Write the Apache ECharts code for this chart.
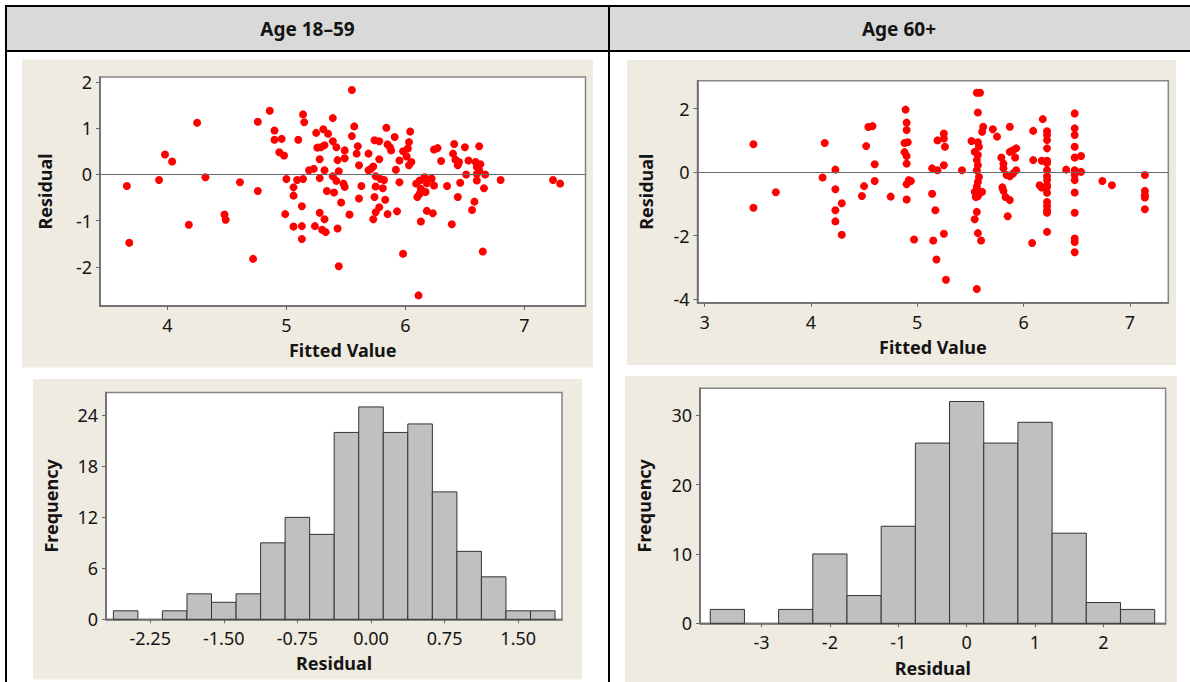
<!DOCTYPE html>
<html>
<head>
<meta charset="utf-8">
<script src="https://cdn.jsdelivr.net/npm/echarts@6/dist/echarts.min.js"></script>
<style>
html,body{margin:0;padding:0;background:#fff;}
#chart{width:1190px;height:682px;}
</style>
</head>
<body>
<div id="chart"></div>
<script>
// ---------- DATA ----------
const panelTitles = ['Age 18–59', 'Age 60+'];
const fittedName = 'Fitted Value';
const residName = 'Residual';
const freqName = 'Frequency';

// Age 18-59: [fitted value, residual]
const points1 = [
[3.66,-0.25],[3.68,-1.48],[3.93,-0.12],[3.98,0.43],[4.04,0.28],[4.25,1.12],[4.18,-1.09],[4.32,-0.06],
[4.48,-0.87],[4.49,-0.98],[4.61,-0.17],[4.72,-1.83],[4.76,1.14],[4.76,-0.36],[4.86,1.38],[4.90,0.95],
[4.90,0.75],[4.96,0.77],[4.94,0.48],[4.98,0.41],[5.00,-0.10],[5.06,-0.28],[5.06,-0.46],[4.99,-0.86],
[5.06,-1.13],[5.13,-0.69],[5.13,-1.12],[5.13,-1.40],[5.10,0.75],[5.14,1.30],[5.15,1.13],[5.09,-0.12],
[5.14,-0.10],[5.19,0.09],[5.23,0.12],[5.24,-1.12],[5.25,0.90],[5.26,0.58],[5.29,0.59],[5.28,0.33],
[5.28,-0.08],[5.28,-0.83],[5.31,0.98],[5.32,0.63],[5.32,0.09],[5.32,-0.97],[5.30,-1.20],[5.33,-1.25],
[5.34,-0.36],[5.35,0.88],[5.39,1.22],[5.39,0.72],[5.42,0.59],[5.39,-0.04],[5.42,-0.14],[5.40,-0.39],
[5.43,0.31],[5.44,0.07],[5.46,-0.61],[5.43,-1.17],[5.44,-1.99],[5.49,0.52],[5.49,0.35],[5.48,-0.20],
[5.49,-0.27],[5.53,-0.87],[5.55,1.83],[5.55,0.83],[5.57,1.04],[5.60,0.61],[5.59,0.45],[5.61,0.20],
[5.69,0.45],[5.63,-0.25],[5.61,-0.52],[5.84,1.01],[5.74,0.74],[5.78,0.72],[5.85,0.65],[5.88,0.52],
[5.91,0.81],[5.87,0.59],[6.04,0.93],[6.03,0.70],[6.02,0.56],[5.98,0.50],[5.95,0.30],[6.03,0.20],
[6.05,0.27],[6.01,0.39],[5.78,0.33],[5.73,0.17],[5.69,0.09],[5.71,0.12],[5.92,0.10],[5.75,-0.04],
[5.79,-0.10],[5.82,-0.12],[5.75,-0.26],[5.81,-0.30],[5.95,-0.17],[5.74,-0.49],[5.83,-0.55],[5.78,-0.71],
[5.75,-0.82],[5.73,-0.97],[5.85,-0.86],[5.93,-0.80],[5.98,-1.72],[6.11,-2.62],[6.13,-1.02],[6.18,-0.79],
[6.23,-0.84],[6.09,-0.20],[6.12,-0.13],[6.16,-0.06],[6.18,-0.19],[6.22,-0.09],[6.24,-0.24],[6.13,-0.31],
[6.10,-0.49],[6.12,-0.42],[6.17,-0.38],[6.24,0.54],[6.27,0.57],[6.30,0.29],[6.35,-0.25],[6.39,-1.08],
[6.41,0.66],[6.40,0.45],[6.42,0.32],[6.44,0.20],[6.45,0.27],[6.50,0.59],[6.46,-0.18],[6.44,-0.49],
[6.51,0.00],[6.53,0.30],[6.62,0.61],[6.59,0.27],[6.60,0.16],[6.63,0.22],[6.62,0.09],[6.60,0.01],
[6.67,0.00],[6.60,-0.13],[6.66,-0.30],[6.58,-0.59],[6.56,-0.77],[6.65,-1.67],[6.80,-0.12],[7.24,-0.12],
[7.30,-0.20]
];

// Age 60+: [fitted value, residual]
const points2 = [
[3.46,0.88],[3.46,-1.12],[3.67,-0.63],[4.13,0.92],[4.11,-0.17],[4.23,0.08],[4.23,-0.54],[4.23,-1.20],
[4.23,-1.55],[4.29,-0.98],[4.29,-1.97],[4.52,0.82],[4.54,1.42],[4.58,1.45],[4.60,0.25],[4.60,-0.28],
[4.50,-0.44],[4.48,-0.75],[4.75,-0.77],[4.89,1.97],[4.90,1.56],[4.90,1.33],[4.88,0.92],[4.91,0.94],
[4.88,0.63],[4.90,0.51],[4.90,0.27],[4.92,-0.25],[4.94,-0.28],[4.90,-0.38],[4.90,-0.86],[4.97,-2.12],
[5.14,0.12],[5.19,0.06],[5.19,1.00],[5.14,-0.68],[5.17,-1.20],[5.15,-2.15],[5.18,-2.75],[5.25,1.22],
[5.26,0.80],[5.25,1.06],[5.25,0.22],[5.25,-1.94],[5.27,-3.39],[5.42,0.06],[5.56,2.50],[5.59,2.50],
[5.57,1.88],[5.62,1.43],[5.61,1.27],[5.51,0.98],[5.57,0.94],[5.58,0.80],[5.54,0.64],[5.57,0.54],
[5.56,0.38],[5.57,0.22],[5.56,0.06],[5.58,-0.15],[5.57,-0.31],[5.56,-0.46],[5.54,-0.62],[5.58,-0.62],
[5.61,-0.62],[5.57,-0.76],[5.55,-0.78],[5.56,-1.25],[5.54,-1.48],[5.57,-1.92],[5.60,-2.15],[5.56,-3.68],
[5.71,1.35],[5.75,1.12],[5.87,1.43],[5.79,0.46],[5.81,0.27],[5.81,0.12],[5.84,-0.09],[5.87,-0.13],
[5.87,0.64],[5.90,0.69],[5.93,0.75],[5.92,0.46],[5.93,0.06],[5.90,-0.04],[5.80,-0.48],[5.81,-0.59],
[5.83,-0.78],[5.87,-0.88],[5.85,-1.39],[6.09,1.30],[6.18,1.67],[6.09,0.38],[6.08,-2.23],
[6.22,1.29],[6.22,1.17],[6.22,1.01],[6.22,0.75],[6.22,0.36],[6.22,0.29],[6.22,0.06],[6.22,-0.13],
[6.22,-0.25],[6.22,-0.41],[6.22,-0.46],[6.22,-0.65],[6.22,-0.94],[6.22,-1.07],[6.22,-1.20],[6.22,-1.28],
[6.22,-1.88],[6.17,0.36],[6.15,-0.41],[6.17,-0.48],[6.40,0.08],
[6.48,1.85],[6.48,1.38],[6.48,1.17],[6.48,0.80],[6.48,0.46],[6.48,0.06],[6.48,-0.09],[6.48,-0.25],
[6.48,-0.64],[6.48,-1.28],[6.48,-2.09],[6.48,-2.20],[6.48,-2.52],[6.54,0.51],[6.54,0.01],
[6.74,-0.28],[6.83,-0.41],[7.14,-0.09],[7.14,-0.59],[7.14,-0.73],[7.14,-0.80],[7.14,-1.17]
];

// Histograms of residuals
const hist1Counts = [1,0,1,3,2,3,9,12,10,22,25,22,23,15,8,5,1,1];
const hist1Start = -2.625;
const hist1Width = 0.25;
const hist2Counts = [2,0,2,10,4,14,26,32,26,29,13,3,2];
const hist2Start = -3.75;
const hist2Width = 0.5;

// Tick values
const ticksX1 = [4,5,6,7];
const ticksY1 = [-2,-1,0,1,2];
const ticksX2 = [3,4,5,6,7];
const ticksY2 = [-4,-2,0,2];
const ticksX3 = [-2.25,-1.5,-0.75,0,0.75,1.5];
const ticksY3 = [0,6,12,18,24];
const ticksX4 = [-3,-2,-1,0,1,2];
const ticksY4 = [0,10,20,30];

// ---------- STYLE / LAYOUT ----------
const FONT = '"Noto Sans", "DejaVu Sans", sans-serif';
const TXT = '#141414';
const AX = '#676767';
const BEIGE = '#efebe1';

function axis(grid, min, max, ticks, name, gap, fmt, isY) {
  return {
    type: 'value', gridIndex: grid, min: min, max: max,
    name: name, nameLocation: 'middle', nameGap: gap,
    nameTextStyle: {fontFamily: FONT, fontSize: 18, fontWeight: 'bold', color: TXT},
    axisLine: {show: true, onZero: false, lineStyle: {color: AX, width: 1.5}},
    axisTick: {show: true, length: 4, customValues: ticks, lineStyle: {color: AX, width: 1}},
    axisLabel: {show: true, customValues: ticks, margin: isY ? 8 : 10, formatter: fmt,
                fontFamily: FONT, fontSize: 18, color: TXT},
    splitLine: {show: false}
  };
}
const plain = v => String(v);
const two = v => v.toFixed(2);

function histSeries(idx, counts, start, width) {
  return {
    type: 'custom', xAxisIndex: idx, yAxisIndex: idx, z: 3,
    data: counts.map((c, i) => [start + i * width, start + (i + 1) * width, c]),
    encode: {x: [0, 1], y: 2},
    renderItem: function (params, api) {
      const c = api.value(2);
      if (!c) return null;
      const p0 = api.coord([api.value(0), c]);
      const p1 = api.coord([api.value(1), 0]);
      return {type: 'rect',
        shape: {x: p0[0], y: p0[1], width: p1[0] - p0[0], height: p1[1] - p0[1]},
        style: {fill: '#c0c0c0', stroke: '#333333', lineWidth: 1}};
    }
  };
}
function zeroLine(idx) {
  return {
    type: 'scatter', xAxisIndex: idx, yAxisIndex: idx, data: [], z: 2,
    markLine: {silent: true, symbol: 'none', label: {show: false},
      lineStyle: {color: '#6a6a6a', width: 1, type: 'solid'}, data: [{yAxis: 0}], animation: false}
  };
}
function scatterSeries(idx, pts) {
  return {type: 'scatter', xAxisIndex: idx, yAxisIndex: idx, z: 4, symbolSize: 8,
    itemStyle: {color: '#ff0000', opacity: 1}, data: pts};
}

const gridBase = {show: true, backgroundColor: '#ffffff', borderColor: '#858585', borderWidth: 1.5, containLabel: false};

const bgRect = (x, y, w, h, fill) => ({type: 'rect', z: -10, shape: {x, y, width: w, height: h}, style: {fill}});
const blk = (x, y, w, h) => ({type: 'rect', z: 50, shape: {x, y, width: w, height: h}, style: {fill: '#000'}});

const option = {
  animation: false,
  backgroundColor: '#ffffff',
  graphic: {elements: [
    bgRect(7, 7, 1183, 43, '#d9d9d9'),
    bgRect(22, 59.5, 571, 308, BEIGE),
    bgRect(627, 60, 549, 305, BEIGE),
    bgRect(33, 379, 549, 300.5, BEIGE),
    bgRect(625, 376, 552, 306, BEIGE),
    blk(5, 5, 1185, 2), blk(5, 5, 2, 677), blk(608, 5, 2, 677), blk(5, 50, 1185, 2),
    {type: 'text', z: 60, style: {text: panelTitles[0], x: 307.5, y: 29, align: 'center', verticalAlign: 'middle',
      font: 'bold 19px ' + FONT, fill: TXT}},
    {type: 'text', z: 60, style: {text: panelTitles[1], x: 899, y: 29, align: 'center', verticalAlign: 'middle',
      font: 'bold 19px ' + FONT, fill: TXT}}
  ]},
  grid: [
    Object.assign({left: 100, top: 77, width: 485.5, height: 229}, gridBase),
    Object.assign({left: 697.5, top: 80.7, width: 470.8, height: 222}, gridBase),
    Object.assign({left: 106, top: 392.5, width: 456, height: 226.8}, gridBase),
    Object.assign({left: 700, top: 388.3, width: 465.6, height: 235}, gridBase)
  ],
  xAxis: [
    axis(0, 3.434, 7.513, ticksX1, fittedName, 35, plain, false),
    axis(1, 2.934, 7.36, ticksX2, fittedName, 35, plain, false),
    axis(2, -2.70, 1.946, ticksX3, residName, 35, two, false),
    axis(3, -3.90, 2.91, ticksX4, residName, 36, plain, false)
  ],
  yAxis: [
    axis(0, -2.85, 2.11, ticksY1, residName, 46, plain, true),
    axis(1, -4.11, 2.88, ticksY2, residName, 43, plain, true),
    axis(2, 0, 26.7, ticksY3, freqName, 46, plain, true),
    axis(3, 0, 33.9, ticksY4, freqName, 47, plain, true)
  ],
  series: [
    zeroLine(0), scatterSeries(0, points1),
    zeroLine(1), scatterSeries(1, points2),
    histSeries(2, hist1Counts, hist1Start, hist1Width),
    histSeries(3, hist2Counts, hist2Start, hist2Width)
  ]
};

const chart = echarts.init(document.getElementById('chart'), null, {renderer: 'svg', width: 1190, height: 682});
chart.setOption(option);
</script>
</body>
</html>
